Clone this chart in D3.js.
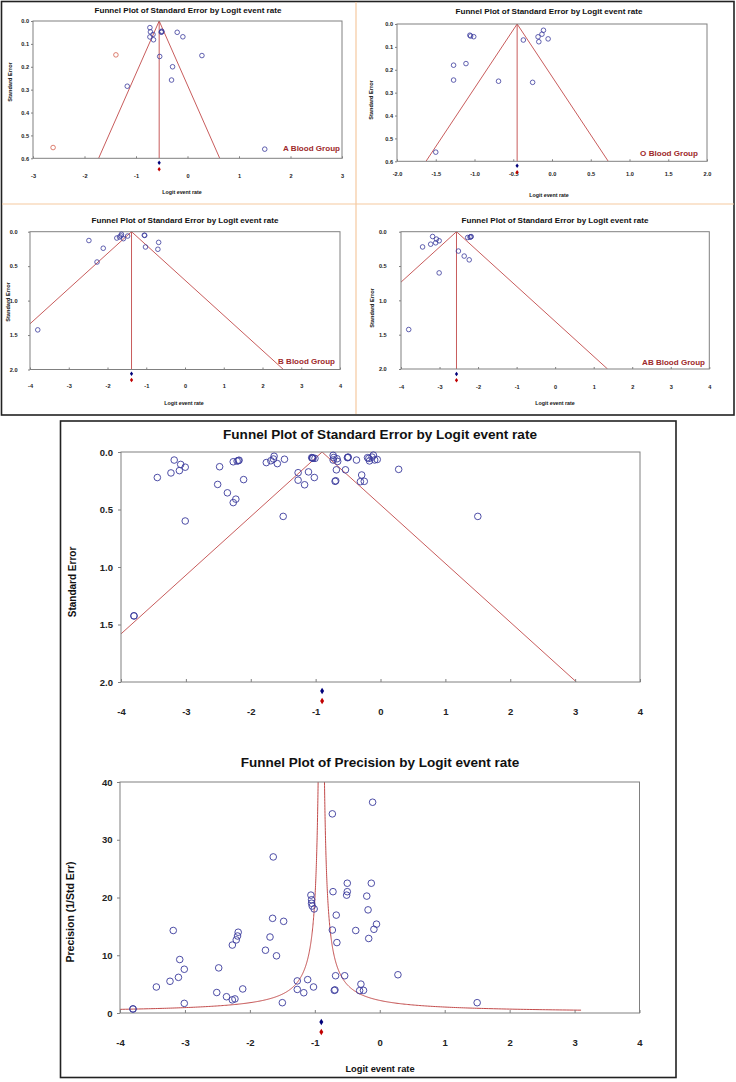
<!DOCTYPE html>
<html><head><meta charset="utf-8">
<script src="https://cdn.jsdelivr.net/npm/d3@7"></script>
<style>
body{margin:0;background:#fff}
svg{display:block}
text{font-family:"Liberation Sans",Arial,sans-serif}
</style>
</head><body>
<svg id="c" width="736" height="1082"></svg>
<script>
// ---------------- DATA ----------------
const aLogit = [-0.73,-0.72,-0.67,-0.73,-0.66,-0.50,-0.50,-0.51,-0.20,-0.09,0.28,-0.54,-0.29,-0.31,-1.17,1.50];
const aSE    = [0.029,0.0476,0.059,0.0696,0.082,0.0445,0.0476,0.049,0.0494,0.069,0.151,0.155,0.200,0.258,0.285,0.56];
const aImputedLogit = [-1.39,-2.61];
const aImputedSE    = [0.148,0.553];
const oLogit = [-1.06,-1.05,-1.01,-0.37,-0.18,-0.13,-0.11,-0.05,-0.17,-1.27,-1.11,-1.27,-0.69,-0.25,-1.50];
const oSE    = [0.049,0.0526,0.0555,0.070,0.056,0.0445,0.0274,0.065,0.0775,0.180,0.173,0.245,0.250,0.255,0.56];
const bLogit = [-2.48,-2.11,-2.27,-3.80,-1.76,-1.69,-1.64,-1.59,-1.48,-1.65,-1.05,-1.04,-1.02,-0.68,-0.70];
const bSE    = [0.128,0.240,0.440,1.425,0.092,0.076,0.037,0.101,0.063,0.061,0.051,0.054,0.222,0.155,0.255];
const abLogit = [-3.18,-3.08,-3.01,-3.10,-3.23,-3.44,-3.01,-3.80,-2.27,-2.21,-2.19,-2.18,-2.51,-2.36,-2.23];
const abSE    = [0.070,0.108,0.132,0.162,0.182,0.222,0.600,1.425,0.085,0.079,0.075,0.0715,0.282,0.355,0.410];
const aSummary = -0.55, oSummary = -0.45, bSummary = -1.38, abSummary = -2.56, allSummary = -0.90;
const groupLabels = ["A Blood Group","O Blood Group","B Blood Group","AB Blood Group"];
const seTitle = "Funnel Plot of Standard Error by Logit event rate";
const precTitle = "Funnel Plot of Precision by Logit event rate";
const xTitle = "Logit event rate";
const seAxisTitle = "Standard Error";
const precAxisTitle = "Precision (1/Std Err)";
const ticksX3 = [-3,-2,-1,0,1,2,3];
const ticksX2 = [-2,-1.5,-1,-0.5,0,0.5,1,1.5,2];
const ticksX4 = [-4,-3,-2,-1,0,1,2,3,4];
const ticksSE06 = [0,0.1,0.2,0.3,0.4,0.5,0.6];
const ticksSE2 = [0,0.5,1,1.5,2];
const ticksPrec = [0,10,20,30,40];

// ---------------- STYLE ----------------
const BLUE = "#3a3a9c", RED = "#c24a4a", FRAME = "#808080", IMP = "#d4604c", LABEL = "#9e2a2b";
const svg = d3.select("#c");

function fit(t, w){
  const L = t.node().getComputedTextLength();
  if (L > 0) t.attr("font-size", parseFloat(t.attr("font-size")) * w / L);
}
function diamond(g, cx, cy, hw, hh, col){
  g.append("path").attr("d",`M${cx},${cy-hh}L${cx+hw},${cy}L${cx},${cy+hh}L${cx-hw},${cy}Z`).attr("fill",col);
}
let clipN = 0;
function frameAxes(g, o, x, y){
  g.append("rect").attr("x",o.x0).attr("y",o.y0).attr("width",o.x1-o.x0).attr("height",o.y1-o.y0)
    .attr("fill","none").attr("stroke",FRAME).attr("stroke-width",1);
  const xa = d3.axisBottom(x).tickValues(o.xTicks).tickFormat(o.xFmt)
    .tickSizeInner(-o.tick).tickSizeOuter(0).tickPadding(o.tickLabelY - o.y1 - 0.36*o.tickFs);
  const gx = g.append("g").attr("transform",`translate(0,${o.y1})`).call(xa);
  const ya = d3.axisLeft(y).tickValues(o.yTicks).tickFormat(o.yFmt)
    .tickSizeInner(o.tick).tickSizeOuter(0).tickPadding(o.x0 - o.yTickRight - o.tick);
  const gy = g.append("g").attr("transform",`translate(${o.x0},0)`).call(ya);
  [gx,gy].forEach(a=>{
    a.select(".domain").remove();
    a.selectAll("line").attr("stroke",FRAME);
    a.selectAll("text").attr("font-size",o.tickFs).attr("font-weight","bold").attr("fill","#222")
      .attr("font-family","'Liberation Sans',Arial,sans-serif");
  });
}
function axisTitles(g, o){
  const t = g.append("text").attr("x",o.titleX).attr("y",o.titleY).attr("text-anchor","middle")
    .attr("font-size",o.titleFs).attr("font-weight","bold").attr("fill","#111").text(o.title);
  fit(t, o.titleW);
  if (o.xTitleY) {
    g.append("text").attr("x",o.xTitleX).attr("y",o.xTitleY + 0.35*o.xTitleFs).attr("text-anchor","middle")
      .attr("font-size",o.xTitleFs).attr("font-weight","bold").attr("fill","#111").text(xTitle);
  }
  g.append("text").attr("transform",`translate(${o.yTitleX + 0.36*o.yTitleFs},${o.yTitleY}) rotate(-90)`)
    .attr("text-anchor","middle").attr("font-size",o.yTitleFs).attr("font-weight","bold").attr("fill","#111")
    .text(o.yTitle);
}

function funnelSE(o){
  const g = svg.append("g");
  const x = d3.scaleLinear().domain(o.xDomain).range([o.x0,o.x1]);
  const y = d3.scaleLinear().domain(o.yDomain).range([o.y0,o.y1]);
  const id = "clip" + (clipN++);
  svg.append("clipPath").attr("id",id).append("rect")
    .attr("x",o.x0).attr("y",o.y0).attr("width",o.x1-o.x0).attr("height",o.y1-o.y0);
  const m = o.summary, sMax = o.yDomain[1];
  const line = d3.line().x(d=>x(d[0])).y(d=>y(d[1]));
  g.append("path").attr("d", line([[m-1.96*sMax,sMax],[m,0],[m+1.96*sMax,sMax]]))
    .attr("fill","none").attr("stroke",RED).attr("stroke-width",0.9).attr("clip-path",`url(#${id})`);
  if (o.vertical) g.append("path").attr("d", line([[m,0],[m,sMax]]))
    .attr("fill","none").attr("stroke",RED).attr("stroke-width",0.9);
  frameAxes(g, o, x, y);
  o.lx.forEach((v,i)=>{
    g.append("circle").attr("cx",x(v)).attr("cy",y(o.ls[i])).attr("r",o.r)
      .attr("fill","none").attr("stroke",BLUE).attr("stroke-width",o.sw);
  });
  (o.ix||[]).forEach((v,i)=>{
    g.append("circle").attr("cx",x(v)).attr("cy",y(o.is[i])).attr("r",o.r)
      .attr("fill","none").attr("stroke",IMP).attr("stroke-width",o.sw);
  });
  diamond(g, x(m), o.d1, o.dw, o.dh, "#00007a");
  diamond(g, x(m), o.d2, o.dw, o.dh, "#c00000");
  axisTitles(g, o);
  if (o.group) {
    const t = g.append("text").attr("x",o.gRight).attr("y",o.gY).attr("text-anchor","end")
      .attr("font-family","Lato,'Open Sans',sans-serif").attr("font-weight","bold")
      .attr("font-size",9).attr("fill",LABEL).text(o.group);
    fit(t, o.gW);
  }
}

// ---------------- BOXES ----------------
svg.append("rect").attr("x",1.5).attr("y",1.5).attr("width",732.5).attr("height",413.5)
  .attr("fill","none").attr("stroke","#222").attr("stroke-width",1.6);
svg.append("line").attr("x1",356).attr("x2",356).attr("y1",2).attr("y2",414).attr("stroke","#f5c9a0").attr("stroke-width",1.2);
svg.append("line").attr("x1",2).attr("x2",734).attr("y1",204).attr("y2",204).attr("stroke","#f5c9a0").attr("stroke-width",1.2);
svg.append("rect").attr("x",60.5).attr("y",421).attr("width",615.5).attr("height",656.5)
  .attr("fill","none").attr("stroke","#222").attr("stroke-width",1.6);

const hy = s => s.replace(/\u2212/g, "-");
const f1 = d => hy(d3.format(".1f")(d)), f0 = d => hy(d3.format("d")(d));
const small = {tick:2, tickFs:5.6, titleFs:8, titleW:187, xTitleFs:5.3, yTitleFs:5.6, yTitle:seAxisTitle,
  title:seTitle, r:2.3, sw:0.8, dw:1.6, dh:2.2, vertical:true, xFmt:f0, yFmt:f1};

// A
funnelSE(Object.assign({}, small, {x0:33,x1:342,y0:21,y1:158.3,xDomain:[-3,3],yDomain:[0,0.6],
  xTicks:ticksX3,yTicks:ticksSE06,summary:aSummary,lx:aLogit,ls:aSE,ix:aImputedLogit,is:aImputedSE,
  tickLabelY:176,yTickRight:29,titleX:188,titleY:12.6,xTitleX:182,xTitleY:192,yTitleX:10,yTitleY:82,
  d1:162.7,d2:169.3,group:groupLabels[0],gRight:340,gY:151.3,gW:57}));
// O
funnelSE(Object.assign({}, small, {x0:397,x1:707,y0:24,y1:161.3,xDomain:[-2,2],yDomain:[0,0.6],
  xTicks:ticksX2,xFmt:f1,yTicks:ticksSE06,summary:oSummary,lx:oLogit,ls:oSE,
  tickLabelY:174,yTickRight:393,titleX:549,titleY:13.8,xTitleX:549,xTitleY:195,yTitleX:371,yTitleY:100,
  d1:165.7,d2:172.3,group:groupLabels[1],gRight:698,gY:156.3,gW:58}));
// B
funnelSE(Object.assign({}, small, {x0:30,x1:340,y0:231.7,y1:369.5,xDomain:[-4,4],yDomain:[0,2],
  xTicks:ticksX4,yTicks:ticksSE2,summary:bSummary,lx:bLogit,ls:bSE,
  tickLabelY:386,yTickRight:17.5,titleX:185,titleY:223,xTitleX:184,xTitleY:402.7,yTitleX:8,yTitleY:302,
  d1:373.7,d2:380,group:groupLabels[2],gRight:335,gY:363.6,gW:57}));
// AB
funnelSE(Object.assign({}, small, {x0:401,x1:709.3,y0:231.7,y1:369,xDomain:[-4,4],yDomain:[0,2],
  xTicks:ticksX4,yTicks:ticksSE2,summary:abSummary,lx:abLogit,ls:abSE,
  tickLabelY:387,yTickRight:386.7,titleX:555,titleY:223,xTitleX:555,xTitleY:402.7,yTitleX:372,yTitleY:308,
  d1:374,d2:380.3,group:groupLabels[3],gRight:705,gY:365.3,gW:63}));

// Combined
const allLogit = aLogit.concat(oLogit, bLogit, abLogit);
const allSE = aSE.concat(oSE, bSE, abSE);
funnelSE({x0:121,x1:640,y0:452,y1:682,xDomain:[-4,4],yDomain:[0,2],xTicks:ticksX4,yTicks:ticksSE2,
  xFmt:f0,yFmt:f1,tick:3,tickFs:9.5,summary:allSummary,lx:allLogit,ls:allSE,r:3.3,sw:0.9,vertical:false,
  tickLabelY:712,yTickRight:113,title:seTitle,titleFs:13.5,titleW:314,titleX:380,titleY:439,
  yTitle:seAxisTitle,yTitleFs:10,yTitleX:72,yTitleY:582,d1:691,d2:701,dw:2,dh:3.2});

// Precision plot
(function(){
  const o = {x0:120,x1:639.5,y0:782,y1:1013,xDomain:[-4,4],yDomain:[0,40],xTicks:ticksX4,yTicks:ticksPrec,
    xFmt:f0,yFmt:f0,tick:3,tickFs:9.5,tickLabelY:1043,yTickRight:112.5,title:precTitle,titleFs:13.5,titleW:279,
    titleX:380,titleY:767,xTitleX:380,xTitleY:1069,xTitleFs:9.3,yTitle:precAxisTitle,yTitleFs:10.5,yTitleX:70,yTitleY:912};
  const g = svg.append("g");
  const x = d3.scaleLinear().domain(o.xDomain).range([o.x0,o.x1]);
  const y = d3.scaleLinear().domain(o.yDomain).range([o.y1,o.y0]);
  const m = allSummary, pTop = o.yDomain[1];
  const line = d3.line().x(d=>x(d[0])).y(d=>y(d[1]));
  const pL = 1.96/(m - o.xDomain[0]), pR = 1.96/(3.1 - m);
  const left = d3.range(0,301).map(i=>{const p=pL*Math.pow(pTop/pL,i/300); return [m-1.96/p,p];});
  const right = d3.range(0,301).map(i=>{const p=pR*Math.pow(pTop/pR,i/300); return [m+1.96/p,p];});
  [left,right].forEach(c=>g.append("path").attr("d",line(c)).attr("fill","none").attr("stroke",RED).attr("stroke-width",1));
  frameAxes(g, o, x, y);
  allLogit.forEach((v,i)=>{
    g.append("circle").attr("cx",x(v)).attr("cy",y(1/allSE[i])).attr("r",3.3)
      .attr("fill","none").attr("stroke",BLUE).attr("stroke-width",0.9);
  });
  diamond(g, x(m), 1022, 2, 3.2, "#00007a");
  diamond(g, x(m), 1032, 2, 3.2, "#c00000");
  axisTitles(g, o);
})();
</script>
</body></html>
